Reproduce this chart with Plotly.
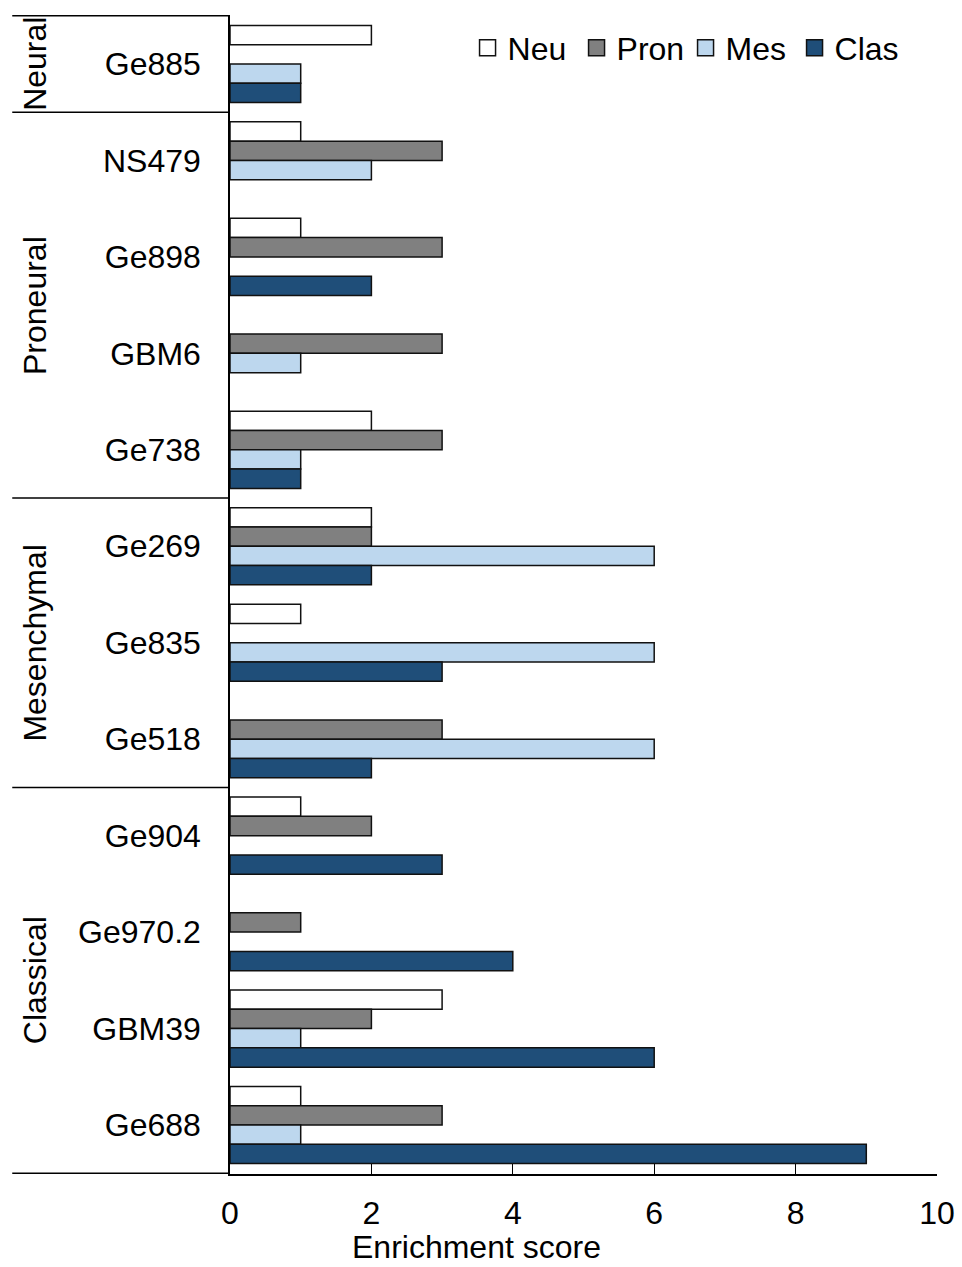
import plotly.graph_objects as go

# Cell lines, top to bottom
samples = ["Ge885", "NS479", "Ge898", "GBM6", "Ge738", "Ge269", "Ge835",
           "Ge518", "Ge904", "Ge970.2", "GBM39", "Ge688"]

# Subtype group brackets (label, number of samples in group)
groups = [("Neural", 1), ("Proneural", 4), ("Mesenchymal", 3), ("Classical", 4)]

# Enrichment scores per subtype signature
neu = [2, 1, 1, 0, 2, 2, 1, 0, 1, 0, 3, 1]
pron = [0, 3, 3, 3, 3, 2, 0, 3, 2, 1, 2, 3]
mes = [1, 2, 0, 1, 1, 6, 6, 6, 0, 0, 1, 1]
clas = [1, 0, 2, 0, 1, 2, 3, 2, 3, 4, 6, 9]

series = [("Neu", neu, "#FFFFFF"), ("Pron", pron, "#808080"),
          ("Mes", mes, "#BDD7EE"), ("Clas", clas, "#1F4E79")]

FONT = "Arial, Liberation Sans, sans-serif"
FS = 32
EDGE = "#111111"

fig = go.Figure()
for name, vals, color in series:
    fig.add_trace(go.Bar(
        y=samples, x=[v if v else None for v in vals], name=name,
        orientation="h",
        marker=dict(color=color, line=dict(color=EDGE, width=1.5)),
        showlegend=False,
    ))
# Square legend keys
for name, vals, color in series:
    fig.add_trace(go.Scatter(
        x=[None], y=[None], mode="markers", name=name,
        marker=dict(symbol="square", size=16, color=color,
                    line=dict(color=EDGE, width=1.5)),
    ))

# Group bracket lines and rotated group labels
start = -0.5
boundaries = [start]
for label, n in groups:
    end = start + n
    fig.add_annotation(
        x=-0.276, xref="paper", y=(start + end) / 2, yref="y",
        text=label, textangle=-90, showarrow=False,
        font=dict(family=FONT, size=FS, color="black"),
        xanchor="center", yanchor="middle",
    )
    boundaries.append(end)
    start = end
for b in boundaries:
    fig.add_shape(type="line", xref="paper", yref="y",
                  x0=-0.308, x1=0, y0=b, y1=b,
                  line=dict(color="black", width=1.5))

# X-axis title, centred on the page
fig.add_annotation(
    x=0.348, xref="paper", y=-0.063, yref="paper",
    text="Enrichment score", showarrow=False,
    font=dict(family=FONT, size=FS, color="black"),
    xanchor="center", yanchor="middle",
)

fig.update_layout(
    width=962, height=1267,
    margin=dict(l=230, r=25, t=15, b=93),
    paper_bgcolor="white", plot_bgcolor="white",
    barmode="group", bargap=0.2, bargroupgap=0,
    font=dict(family=FONT, size=FS, color="black"),
    legend=dict(orientation="h", x=0.336, xanchor="left",
                y=0.9715, yanchor="middle",
                entrywidth=64, entrywidthmode="pixels",
                font=dict(family=FONT, size=FS, color="black"),
                bgcolor="rgba(0,0,0,0)"),
)
fig.update_xaxes(
    range=[0, 10], dtick=2, showgrid=False, zeroline=False,
    showline=True, linecolor="black", linewidth=1.5,
    ticks="inside", ticklen=10, tickcolor="black", tickwidth=1,
    ticklabelstandoff=10, automargin=False,
    tickfont=dict(family=FONT, size=FS, color="black"),
)
fig.update_yaxes(
    autorange="reversed", showgrid=False, zeroline=False,
    showline=True, linecolor="black", linewidth=1.5,
    ticks="", ticklabelstandoff=21, automargin=False,
    tickfont=dict(family=FONT, size=FS, color="black"),
)

fig.write_html("out.html")
